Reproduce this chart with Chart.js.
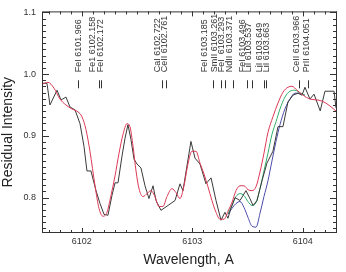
<!DOCTYPE html>
<html>
<head>
<meta charset="utf-8">
<script src="https://cdn.jsdelivr.net/npm/chart.js@4.4.0/dist/chart.umd.min.js"></script>
<style>
  html, body { margin: 0; padding: 0; background: #fff; }
  canvas { display: block; }
</style>
</head>
<body>
<canvas id="myChart" width="346" height="272"></canvas>
<script>
// observed spectrum
const wlObs = [6101.640, 6101.685, 6101.712, 6101.776, 6101.812, 6101.857, 6101.893, 6101.939, 6101.984, 6102.020,
    6102.047, 6102.083, 6102.129, 6102.165, 6102.201, 6102.237, 6102.273, 6102.301, 6102.328, 6102.364,
    6102.391, 6102.418, 6102.445, 6102.473, 6102.500, 6102.536, 6102.572, 6102.608, 6102.645, 6102.672,
    6102.717, 6102.780, 6102.844, 6102.889, 6102.916, 6102.952, 6102.988, 6103.025, 6103.070, 6103.124,
    6103.170, 6103.215, 6103.260, 6103.296, 6103.323, 6103.350, 6103.387, 6103.432, 6103.486, 6103.522,
    6103.550, 6103.586, 6103.631, 6103.676, 6103.730, 6103.776, 6103.821, 6103.866, 6103.912, 6103.957,
    6103.993, 6104.020, 6104.065, 6104.102, 6104.158, 6104.201, 6104.283, 6104.301, 6104.337];
const obs = [0.9851, 0.9851, 0.9500, 0.9739, 0.9580, 0.9628, 0.9468, 0.9420, 0.9197, 0.8830,
    0.8431, 0.8431, 0.8112, 0.7904, 0.7729, 0.7713, 0.8032, 0.8239, 0.8239, 0.8670,
    0.8957, 0.9181, 0.8941, 0.8622, 0.8543, 0.8479, 0.8191, 0.7984, 0.8191, 0.7952,
    0.7793, 0.7872, 0.7952, 0.8223, 0.8112, 0.8511, 0.8910, 0.8638, 0.8543, 0.8223,
    0.8319, 0.7952, 0.7633, 0.7761, 0.7665, 0.7824, 0.8000, 0.7952, 0.8112, 0.7984,
    0.7872, 0.7952, 0.8271, 0.8558, 0.8750, 0.9149, 0.9149, 0.9548, 0.9659, 0.9691,
    0.9659, 0.9787, 0.9596, 0.9675, 0.9404, 0.9723, 0.9723, 0.9452, 0.9436];

// synthetic spectrum (red)
const wlFit = [6101.640, 6101.694, 6101.749, 6101.803, 6101.857, 6101.911, 6101.966, 6102.002, 6102.038, 6102.074,
    6102.120, 6102.156, 6102.192, 6102.228, 6102.264, 6102.301, 6102.337, 6102.373, 6102.409, 6102.436,
    6102.464, 6102.491, 6102.518, 6102.554, 6102.590, 6102.626, 6102.662, 6102.699, 6102.735, 6102.771,
    6102.816, 6102.853, 6102.889, 6102.925, 6102.961, 6102.997, 6103.034, 6103.070, 6103.106, 6103.142,
    6103.178, 6103.215, 6103.251, 6103.287, 6103.323, 6103.359, 6103.396, 6103.432, 6103.468, 6103.504,
    6103.540, 6103.577, 6103.613, 6103.649, 6103.685, 6103.730, 6103.776, 6103.821, 6103.866, 6103.902,
    6103.948, 6104.002, 6104.065, 6104.138, 6104.192, 6104.246, 6104.310];
const fitRed = [0.9835, 0.9867, 0.9771, 0.9596, 0.9500, 0.9436, 0.9388, 0.9308, 0.9101, 0.8750,
    0.8191, 0.7824, 0.7697, 0.7761, 0.8032, 0.8351, 0.8718, 0.9021, 0.9197, 0.9149,
    0.8830, 0.8431, 0.8144, 0.8016, 0.8064, 0.8112, 0.8016, 0.7856, 0.7856, 0.8016,
    0.8144, 0.8080, 0.7984, 0.8191, 0.8543, 0.8750, 0.8750, 0.8558, 0.8383, 0.8176,
    0.7952, 0.7761, 0.7649, 0.7649, 0.7777, 0.7920, 0.8112, 0.8191, 0.8191, 0.8128,
    0.8112, 0.8176, 0.8415, 0.8718, 0.9053, 0.9308, 0.9532, 0.9707, 0.9787, 0.9803,
    0.9739, 0.9659, 0.9596, 0.9580, 0.9548, 0.9484, 0.9388];

// Li region variants (green, blue)
const wlLi = [6103.323, 6103.359, 6103.396, 6103.432, 6103.468, 6103.504, 6103.540, 6103.577, 6103.613, 6103.649,
    6103.685, 6103.721, 6103.758, 6103.794, 6103.839, 6103.884, 6103.930, 6103.975, 6104.020];
const fitGreen = [0.7745, 0.7872, 0.8016, 0.8064, 0.8032, 0.7936, 0.7872, 0.7920, 0.8144, 0.8431,
    0.8718, 0.9021, 0.9229, 0.9436, 0.9628, 0.9723, 0.9739, 0.9691, 0.9659];
const fitBlue = [0.7729, 0.7824, 0.7904, 0.7936, 0.7840, 0.7681, 0.7537, 0.7521, 0.7745, 0.8016,
    0.8271, 0.8591, 0.8910, 0.9181, 0.9436, 0.9596, 0.9691, 0.9691, 0.9659];

// line identifications
const lineWl = [6101.966, 6102.158, 6102.172, 6102.722, 6102.761, 6103.185, 6103.261, 6103.293,
    6103.371, 6103.496, 6103.537, 6103.649, 6103.663, 6103.966, 6104.051];
const lineNames = ['FeI 6101.966', 'Fe1 6102.158', 'FeI 6102.172', 'CaI 6102.722', 'CeII 6102.761',
    'FeI 6103.185', 'SmII 6103.261', 'FeI  6103.293', 'NdII 6103.371', 'FeI 6103.496', 'LiI 6103.537',
    'LiI 6103.649', 'LiI 6103.663', 'CeII 6103.966', 'PrII 6104.051'];
const labelWl = [6101.975, 6102.097, 6102.174, 6102.681, 6102.753, 6103.115, 6103.201, 6103.269,
    6103.337, 6103.459, 6103.513, 6103.613, 6103.676, 6103.948, 6104.038];
const markTop = 0.990;
const markBottom = 0.977;
const labelBase = 1.003;

const xTicks = [6102, 6103, 6104];
const yTicks = [0.8, 0.9, 1.0, 1.1];
const xTitle = 'Wavelength, A';
const yTitle = 'Residual Intensity';

const FAMILY = '"Liberation Sans", Arial, sans-serif';
const toPts = (xs, ys) => xs.map((v, i) => ({ x: v, y: ys[i] }));

Chart.defaults.font.family = FAMILY;

const frame = {
    id: 'frame',
    afterDatasetsDraw(chart) {
        const { ctx, chartArea: a, scales: { x, y } } = chart;
        ctx.save();
        ctx.strokeStyle = '#333';
        ctx.lineWidth = 1;
        ctx.strokeRect(a.left + 0.5, a.top + 0.5, a.right - a.left - 1, a.bottom - a.top - 1);
        ctx.beginPath();
        for (let i = 61017; i <= 61043; i++) {
            const px = Math.round(x.getPixelForValue(i / 10)) + 0.5;
            const len = i % 10 === 0 ? 5 : 3;
            ctx.moveTo(px, a.bottom);
            ctx.lineTo(px, a.bottom - len);
            ctx.moveTo(px, a.top);
            ctx.lineTo(px, a.top + len);
        }
        for (let j = 75; j <= 110; j++) {
            const py = Math.round(y.getPixelForValue(j / 100)) + 0.5;
            const len = j % 10 === 0 ? 7 : 4;
            ctx.moveTo(a.left, py);
            ctx.lineTo(a.left + len, py);
            ctx.moveTo(a.right, py);
            ctx.lineTo(a.right - len, py);
        }
        // line markers
        const t = y.getPixelForValue(markTop);
        const b = y.getPixelForValue(markBottom);
        lineWl.forEach(w => {
            const px = Math.round(x.getPixelForValue(w)) + 0.5;
            ctx.moveTo(px, t);
            ctx.lineTo(px, b);
        });
        ctx.stroke();

        ctx.fillStyle = '#333';
        ctx.font = '9px ' + FAMILY;
        ctx.textAlign = 'left';
        ctx.textBaseline = 'middle';
        const base = y.getPixelForValue(labelBase);
        lineNames.forEach((name, i) => {
            ctx.save();
            ctx.translate(x.getPixelForValue(labelWl[i]), base);
            ctx.rotate(-Math.PI / 2);
            ctx.fillText(name, 0, 0);
            ctx.restore();
        });

        // axis titles
        ctx.fillStyle = '#222';
        ctx.font = '14px ' + FAMILY;
        ctx.textAlign = 'center';
        ctx.fillText(xTitle, (a.left + a.right) / 2 - 1, chart.height - 12);
        ctx.save();
        ctx.translate(8.5, (a.top + a.bottom) / 2 + 10);
        ctx.rotate(-Math.PI / 2);
        ctx.fillText(yTitle, 0, 0);
        ctx.restore();
        ctx.restore();
    }
};

const ctx = document.getElementById('myChart').getContext('2d');
const myChart = new Chart(ctx, {
    type: 'line',
    data: {
        datasets: [{
            label: 'fit',
            data: toPts(wlFit, fitRed),
            borderColor: '#dc3a56',
            borderWidth: 1,
            pointRadius: 0,
            cubicInterpolationMode: 'monotone',
            order: 0
        }, {
            label: 'observed',
            data: toPts(wlObs, obs),
            borderColor: '#3a3a3a',
            borderWidth: 1,
            pointRadius: 0,
            tension: 0,
            order: 1
        }, {
            label: 'green',
            data: toPts(wlLi, fitGreen),
            borderColor: '#2fae6a',
            borderWidth: 1,
            pointRadius: 0,
            cubicInterpolationMode: 'monotone',
            order: 2
        }, {
            label: 'blue',
            data: toPts(wlLi, fitBlue),
            borderColor: '#4b4bab',
            borderWidth: 1,
            pointRadius: 0,
            cubicInterpolationMode: 'monotone',
            order: 3
        }]
    },
    options: {
        responsive: false,
        animation: false,
        layout: { padding: { top: 8, right: 9, left: 0, bottom: 0 } },
        plugins: { legend: { display: false }, tooltip: { enabled: false } },
        scales: {
            x: {
                type: 'linear',
                min: 6101.64,
                max: 6104.31,
                afterFit: s => { s.height = 39; },
                afterBuildTicks: s => { s.ticks = xTicks.map(v => ({ value: v })); },
                grid: { display: false, drawTicks: false },
                border: { display: false },
                ticks: {
                    padding: 3,
                    color: '#333',
                    font: { family: FAMILY, size: 9 },
                    maxRotation: 0,
                    autoSkip: false,
                    callback: v => v.toFixed(0)
                },
                title: { display: false }
            },
            y: {
                min: 0.7426,
                max: 1.1016,
                afterFit: s => { s.width = 42; },
                afterBuildTicks: s => { s.ticks = yTicks.map(v => ({ value: v })); },
                grid: { display: false, drawTicks: false },
                border: { display: false },
                ticks: {
                    padding: 6,
                    color: '#333',
                    font: { family: FAMILY, size: 9 },
                    callback: v => v.toFixed(1)
                },
                title: { display: false }
            }
        }
    },
    plugins: [frame]
});
</script>
</body>
</html>
